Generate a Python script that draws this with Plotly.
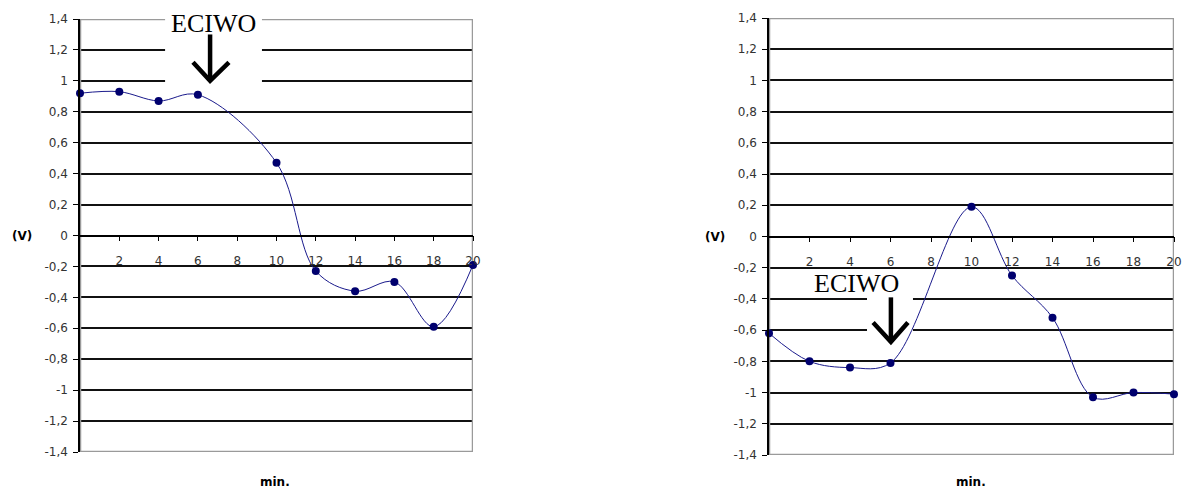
import plotly.graph_objects as go

# ---------------- data ----------------
minutes_left = [0, 2, 4, 6, 10, 12, 14, 16, 18, 20]
volts_left = [0.92, 0.93, 0.87, 0.91, 0.47, -0.23, -0.36, -0.30, -0.59, -0.19]

minutes_right = [0, 2, 4, 6, 10, 12, 14, 16, 18, 20]
volts_right = [-0.62, -0.80, -0.84, -0.81, 0.19, -0.25, -0.52, -1.03, -1.00, -1.01]

x_ticks = [2, 4, 6, 8, 10, 12, 14, 16, 18, 20]
x_tick_labels = ["2", "4", "6", "8", "10", "12", "14", "16", "18", "20"]
y_ticks = [1.4, 1.2, 1.0, 0.8, 0.6, 0.4, 0.2, 0.0, -0.2, -0.4, -0.6, -0.8, -1.0, -1.2, -1.4]
y_tick_labels = ["1,4", "1,2", "1", "0,8", "0,6", "0,4", "0,2", "0", "-0,2", "-0,4",
                 "-0,6", "-0,8", "-1", "-1,2", "-1,4"]

annotation_text = "ECIWO"
y_label = "(V)"
x_label = "min."

# ---------------- layout geometry ----------------
W, H = 1184, 492
left_dom_x = [80 / W, 473 / W]
right_dom_x = [769 / W, 1174 / W]
left_dom_y = [1 - 452 / H, 1 - 19 / H]
right_dom_y = [1 - 455 / H, 1 - 18 / H]

line_col = "#1a1a8c"
marker_col = "#00006e"
tick_font = dict(family="DejaVu Sans, Arial, sans-serif", size=12, color="#333333")

fig = go.Figure()
fig.add_trace(go.Scatter(
    x=minutes_left, y=volts_left, xaxis="x", yaxis="y",
    mode="lines+markers", line=dict(color=line_col, width=1, shape="spline", smoothing=1.0),
    marker=dict(color=marker_col, size=8), cliponaxis=False, showlegend=False))
fig.add_trace(go.Scatter(
    x=minutes_right, y=volts_right, xaxis="x2", yaxis="y2",
    mode="lines+markers", line=dict(color=line_col, width=1, shape="spline", smoothing=1.0),
    marker=dict(color=marker_col, size=8), cliponaxis=False, showlegend=False))

def xaxis_cfg(dom, ydom):
    return dict(domain=dom, range=[0, 20], anchor="free",
                position=(ydom[0] + ydom[1]) / 2, automargin=False,
                tickvals=x_ticks, ticktext=x_tick_labels, tickfont=tick_font,
                showgrid=False, zeroline=False, showline=True, linecolor="black",
                linewidth=1.5, ticks="outside", ticklen=5, tickcolor="black",
                tickwidth=1, ticklabelstandoff=9, fixedrange=True)

def yaxis_cfg(dom, anchor_x):
    return dict(domain=dom, range=[-1.4, 1.4], anchor=anchor_x, automargin=False,
                tickvals=y_ticks, ticktext=y_tick_labels, tickfont=tick_font,
                showgrid=True, gridcolor="#111111", gridwidth=1.5, zeroline=False,
                showline=True, linecolor="black", linewidth=1.5, ticks="outside",
                ticklen=5, tickcolor="black", tickwidth=1, ticklabelstandoff=3,
                fixedrange=True)

shapes = []
# grey plot-area frame (drawn over gridlines, under traces)
for xr, yr in (("x", "y"), ("x2", "y2")):
    shapes.append(dict(type="rect", xref=xr, yref=yr, x0=0, x1=20, y0=-1.4, y1=1.4,
                       line=dict(color="#9a9a9a", width=2.5), layer="between"))

# white background behind the left annotation
shapes.append(dict(type="rect", xref="x", yref="y", x0=4.33, x1=9.26,
                   y0=0.93, y1=1.45, fillcolor="white",
                   line=dict(width=0), layer="between"))
# white background behind the right arrow
shapes.append(dict(type="rect", xref="x2", yref="y2", x0=4.84, x1=7.11,
                   y0=-0.69, y1=-0.36, fillcolor="white",
                   line=dict(width=0), layer="between"))

arrow_line = dict(color="black", width=4.5)
# left arrow
shapes += [
    dict(type="line", xref="x", yref="y", x0=6.62, x1=6.62, y0=1.30, y1=1.01, line=arrow_line, layer="above"),
    dict(type="path", xref="x", yref="y", path="M 5.75 1.12 L 6.62 1.0 L 7.58 1.12", line=arrow_line, layer="above"),
]
# right arrow
shapes += [
    dict(type="line", xref="x2", yref="y2", x0=6.02, x1=6.02, y0=-0.39, y1=-0.665, line=arrow_line, layer="above"),
    dict(type="path", xref="x2", yref="y2", path="M 5.14 -0.551 L 6.02 -0.675 L 6.86 -0.551", line=arrow_line, layer="above"),
]

eciwo_font = dict(family="Liberation Serif, Times New Roman, serif", size=26, color="black")
label_font = dict(family="DejaVu Sans, Arial, sans-serif", size=12, color="black")
annotations = [
    dict(text=annotation_text, xref="x", yref="y", x=6.77, y=1.37, showarrow=False,
         font=eciwo_font, xanchor="center", yanchor="middle"),
    dict(text=annotation_text, xref="x2", yref="y2", x=4.30, y=-0.30, showarrow=False,
         font=eciwo_font, xanchor="center", yanchor="middle"),
    dict(text=f"<b>{y_label}</b>", xref="paper", yref="paper", x=22 / W, y=1 - 236 / H,
         showarrow=False, font=label_font, xanchor="center", yanchor="middle"),
    dict(text=f"<b>{y_label}</b>", xref="paper", yref="paper", x=715 / W, y=1 - 237 / H,
         showarrow=False, font=label_font, xanchor="center", yanchor="middle"),
    dict(text=f"<b>{x_label}</b>", xref="paper", yref="paper", x=275 / W, y=1 - 482 / H,
         showarrow=False, font=label_font, xanchor="center", yanchor="middle"),
    dict(text=f"<b>{x_label}</b>", xref="paper", yref="paper", x=971 / W, y=1 - 482 / H,
         showarrow=False, font=label_font, xanchor="center", yanchor="middle"),
]

fig.update_layout(
    width=W, height=H, margin=dict(l=0, r=0, t=0, b=0, autoexpand=False),
    paper_bgcolor="white", plot_bgcolor="white",
    xaxis=xaxis_cfg(left_dom_x, left_dom_y), yaxis=yaxis_cfg(left_dom_y, "x"),
    xaxis2=xaxis_cfg(right_dom_x, right_dom_y), yaxis2=yaxis_cfg(right_dom_y, "x2"),
    shapes=shapes, annotations=annotations, showlegend=False,
)

fig.write_html("out.html", config={"displayModeBar": False})
